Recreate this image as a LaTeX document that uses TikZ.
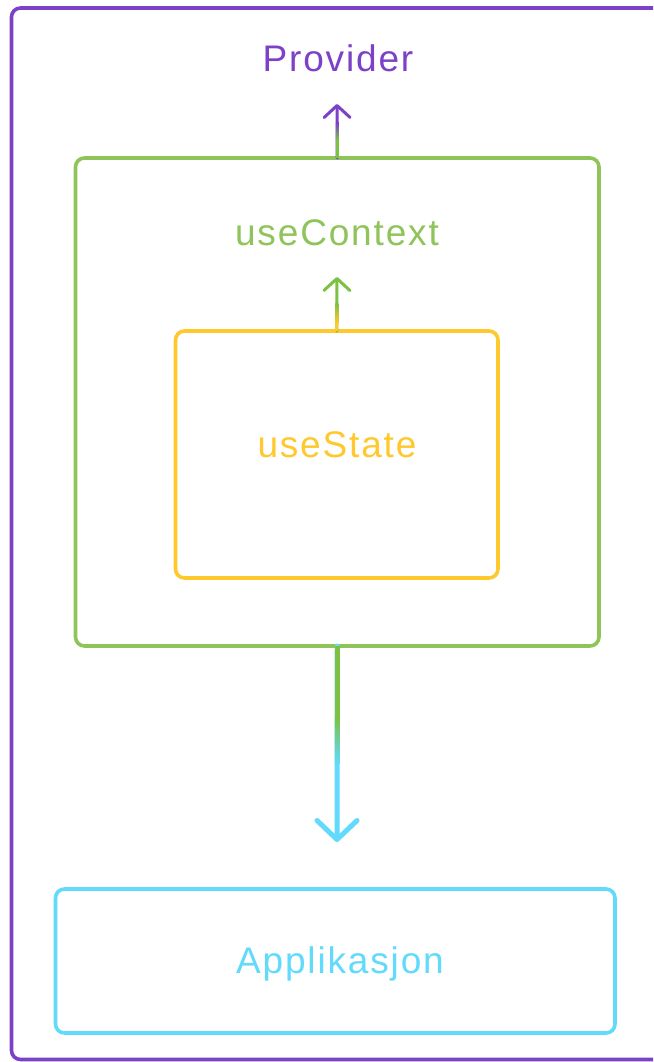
\documentclass[tikz,border=0pt]{standalone}
\usepackage{fontspec}
\setmainfont[LetterSpace=5]{Liberation Sans}
\usetikzlibrary{arrows.meta,calc}

\definecolor{provpurple}{HTML}{7B42C8}
\definecolor{ctxgreen}{HTML}{8FC45A}
\definecolor{flowgreen}{HTML}{7DC142}
\definecolor{stateyellow}{HTML}{FFC82C}
\definecolor{appblue}{HTML}{61DAFB}

\tikzset{
  hookbox/.style={draw, line width=3.6pt, rounded corners=9pt, inner sep=0pt, outer sep=0pt},
  hooklabel/.style={anchor=base, inner sep=0pt, font=\fontsize{37}{44}\selectfont},
  flow/.style={line width=3pt, line cap=round, -{Straight Barb[length=12pt,width=26pt,round,line width=3pt]}},
  bigflow/.style={line width=5pt, line cap=round, -{Straight Barb[length=19pt,width=40pt,round,line width=5pt]}}
}

\begin{document}
\begin{tikzpicture}[x=1pt,y=-1pt]
\path[use as bounding box, clip] (0,0) rectangle (653,1062);
\fill[white] (0,0) rectangle (653,1062);

% boxes
\node[hookbox, provpurple, minimum width=708.5pt, minimum height=1051.5pt] (prov) at (365.75,533.75) {};
\node[hookbox, ctxgreen, minimum width=523.5pt, minimum height=488pt] (ctx) at (337.25,402) {};
\node[hookbox, stateyellow, minimum width=322.5pt, minimum height=247pt] (state) at (336.75,454.5) {};
\node[hookbox, appblue, minimum width=559.5pt, minimum height=144pt] (app) at (335.25,961) {};

% labels
\node[hooklabel, text=provpurple] (provlbl) at (338,72) {Provider};
\node[hooklabel, text=ctxgreen] (ctxlbl) at (337,245) {useContext};
\node[hooklabel, text=stateyellow] (statelbl) at (337,457) {useState};
\node[hooklabel, text=appblue] (applbl) at (340,973) {Applikasjon};

% arrow tips
\coordinate (provtip) at (337,104);
\coordinate (ctxtip) at (337,277);
\coordinate (apptip) at (337,842);

% useContext -> Provider
\draw[flow, provpurple] (ctx.north) -- (provtip);
\draw[flowgreen, line width=3pt] (ctx.north) -- ($(ctx.north)+(0,-18)$);
\shade[bottom color=flowgreen, top color=provpurple] ($(ctx.north)+(-1.5,-18)$) rectangle ($(ctx.north)+(1.5,-35)$);

% useState -> useContext
\draw[flow, flowgreen] (state.north) -- (ctxtip);
\draw[stateyellow, line width=3pt] (state.north) -- ($(state.north)+(0,-8)$);
\shade[bottom color=stateyellow, top color=flowgreen] ($(state.north)+(-1.5,-8)$) rectangle ($(state.north)+(1.5,-28)$);

% useContext -> Applikasjon
\draw[bigflow, appblue] (ctx.south) -- (apptip);
\draw[flowgreen, line width=5pt] (ctx.south) -- ($(ctx.south)+(0,71)$);
\shade[top color=flowgreen, bottom color=appblue] ($(ctx.south)+(-2.5,71)$) rectangle ($(ctx.south)+(2.5,117)$);
\end{tikzpicture}
\end{document}
